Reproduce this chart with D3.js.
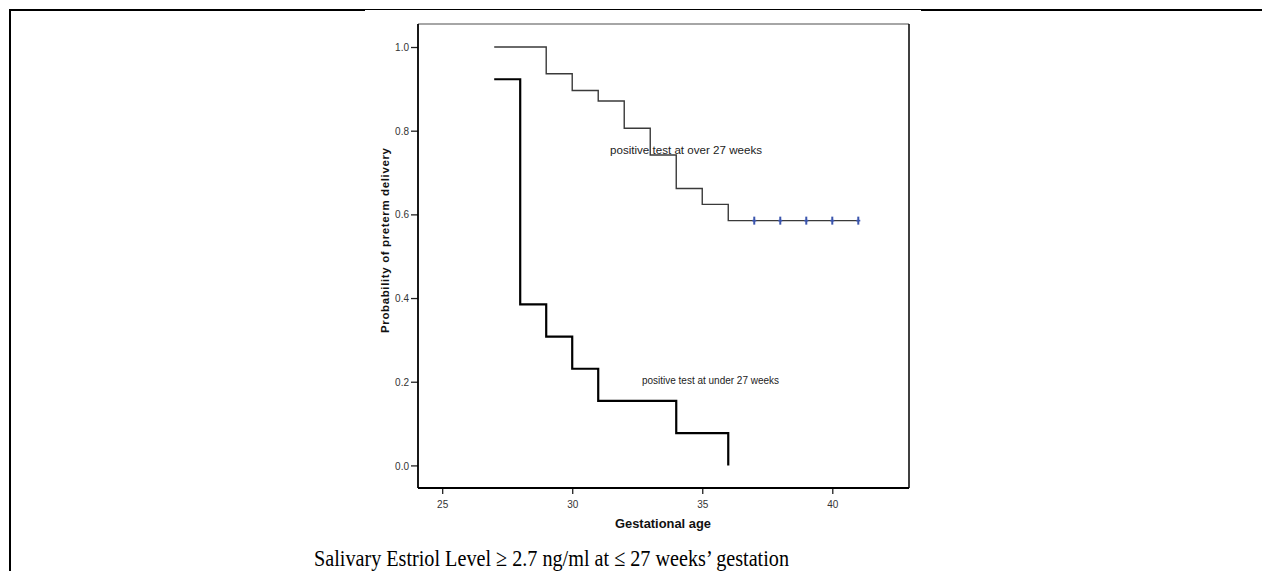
<!DOCTYPE html>
<html><head><meta charset="utf-8">
<script src="https://cdn.jsdelivr.net/npm/d3@7"></script>
<style>body{margin:0;background:#fff;}svg{display:block;}</style>
</head><body>
<svg id="c" width="1262" height="571"></svg>
<script>
// Data
const overWeeks = [27, 29, 30, 31, 32, 33, 34, 35, 36, 41];
const overSurv  = [1.0, 0.936, 0.896, 0.871, 0.806, 0.742, 0.662, 0.624, 0.585, 0.585];
const overCensored = [37, 38, 39, 40, 41];
const underWeeks = [27, 28, 29, 30, 31, 34, 36];
const underSurv  = [0.923, 0.385, 0.308, 0.231, 0.154, 0.077, 0.0];
const xTicks = [25, 30, 35, 40];
const yTicks = [0.0, 0.2, 0.4, 0.6, 0.8, 1.0];
const labelOver = "positive test at over 27 weeks";
const labelUnder = "positive test at under 27 weeks";
const xTitle = "Gestational age";
const yTitle = "Probability of preterm delivery";
const caption = "Salivary Estriol Level \u2265 2.7 ng/ml at \u2264 27 weeks\u2019 gestation";

const svg = d3.select("#c");
const L = 418, R = 909, T = 24, B = 488;
const x = d3.scaleLinear().domain([24.07, 42.95]).range([L, R]);
const y = d3.scaleLinear().domain([-0.054, 1.055]).range([B, T]);
const sans = "Liberation Sans, Arial, sans-serif";

// outer frame
svg.append("line").attr("x1", 10).attr("x2", 10).attr("y1", 9).attr("y2", 571).attr("stroke", "#000").attr("stroke-width", 2);
svg.append("line").attr("x1", 9).attr("x2", 365).attr("y1", 10).attr("y2", 10).attr("stroke", "#000").attr("stroke-width", 2);
svg.append("line").attr("x1", 365).attr("x2", 921).attr("y1", 9.5).attr("y2", 9.5).attr("stroke", "#000").attr("stroke-width", 1);
svg.append("line").attr("x1", 921).attr("x2", 1262).attr("y1", 10).attr("y2", 10).attr("stroke", "#000").attr("stroke-width", 2);

// plot frame
svg.append("line").attr("x1", L).attr("x2", R).attr("y1", T).attr("y2", T).attr("stroke", "#888").attr("stroke-width", 1.5);
svg.append("line").attr("x1", R).attr("x2", R).attr("y1", T).attr("y2", B).attr("stroke", "#000").attr("stroke-width", 1.5);

// axes
const xAxis = svg.append("g").attr("transform", `translate(0,${B})`)
  .call(d3.axisBottom(x).tickValues(xTicks).tickSize(6).tickSizeOuter(0).tickFormat(d3.format("d")));
const yAxis = svg.append("g").attr("transform", `translate(${L},0)`)
  .call(d3.axisLeft(y).tickValues(yTicks).tickSize(7).tickSizeOuter(0).tickFormat(d3.format(".1f")));
[xAxis, yAxis].forEach(g => {
  g.select(".domain").remove();
  g.selectAll(".tick line").attr("stroke", "#222").attr("stroke-width", 1.3);
  g.selectAll(".tick text").attr("fill", "#333").style("font-family", sans).style("font-size", "10px");
});
xAxis.selectAll(".tick text").attr("y", 10).attr("dy", "0.95em");
yAxis.selectAll(".tick text").attr("x", -9).attr("dy", "0.36em");
svg.append("line").attr("x1", L).attr("x2", L).attr("y1", T).attr("y2", B).attr("stroke", "#000").attr("stroke-width", 1.8);
svg.append("line").attr("x1", L).attr("x2", R).attr("y1", B).attr("y2", B).attr("stroke", "#000").attr("stroke-width", 1.8);

// step lines
const stepLine = d3.line().x(d => x(d[0])).y(d => y(d[1])).curve(d3.curveStepAfter);
svg.append("path").datum(overWeeks.map((w, i) => [w, overSurv[i]]))
  .attr("d", stepLine).attr("fill", "none").attr("stroke", "#3a3a3a").attr("stroke-width", 1.4);
svg.append("path").datum(underWeeks.map((w, i) => [w, underSurv[i]]))
  .attr("d", stepLine).attr("fill", "none").attr("stroke", "#000").attr("stroke-width", 2.2);

// censor marks
svg.selectAll(".cens").data(overCensored).enter().append("line")
  .attr("x1", d => x(d)).attr("x2", d => x(d))
  .attr("y1", y(0.585) - 4).attr("y2", y(0.585) + 4)
  .attr("stroke", "#3b55ad").attr("stroke-width", 2);
svg.selectAll(".censh").data(overCensored).enter().append("line")
  .attr("x1", d => x(d) - 2).attr("x2", d => x(d) + 2)
  .attr("y1", y(0.585)).attr("y2", y(0.585))
  .attr("stroke", "#3b55ad").attr("stroke-width", 1.6);

// curve labels
svg.append("text").attr("x", 610).attr("y", 153.5).text(labelOver)
  .attr("fill", "#222").style("font-family", sans).style("font-size", "11.5px")
  .attr("textLength", 152).attr("lengthAdjust", "spacingAndGlyphs");
svg.append("text").attr("x", 642).attr("y", 384).text(labelUnder)
  .attr("fill", "#222").style("font-family", sans).style("font-size", "10.5px")
  .attr("textLength", 137).attr("lengthAdjust", "spacingAndGlyphs");

// axis titles
svg.append("text").attr("x", 663).attr("y", 528).attr("text-anchor", "middle").text(xTitle)
  .attr("fill", "#111").style("font-family", sans).style("font-size", "13px").style("font-weight", "bold")
  .attr("textLength", 96).attr("lengthAdjust", "spacingAndGlyphs");
svg.append("text").attr("transform", "translate(389,240.5) rotate(-90)").attr("text-anchor", "middle").text(yTitle)
  .attr("fill", "#111").style("font-family", sans).style("font-size", "11.5px").style("font-weight", "bold")
  .attr("textLength", 185).attr("lengthAdjust", "spacing");

// caption
svg.append("text").attr("x", 314).attr("y", 566).text(caption)
  .attr("fill", "#000").style("font-family", "Liberation Serif, Times New Roman, serif").style("font-size", "24px")
  .attr("textLength", 475).attr("lengthAdjust", "spacingAndGlyphs");
</script>
</body></html>
